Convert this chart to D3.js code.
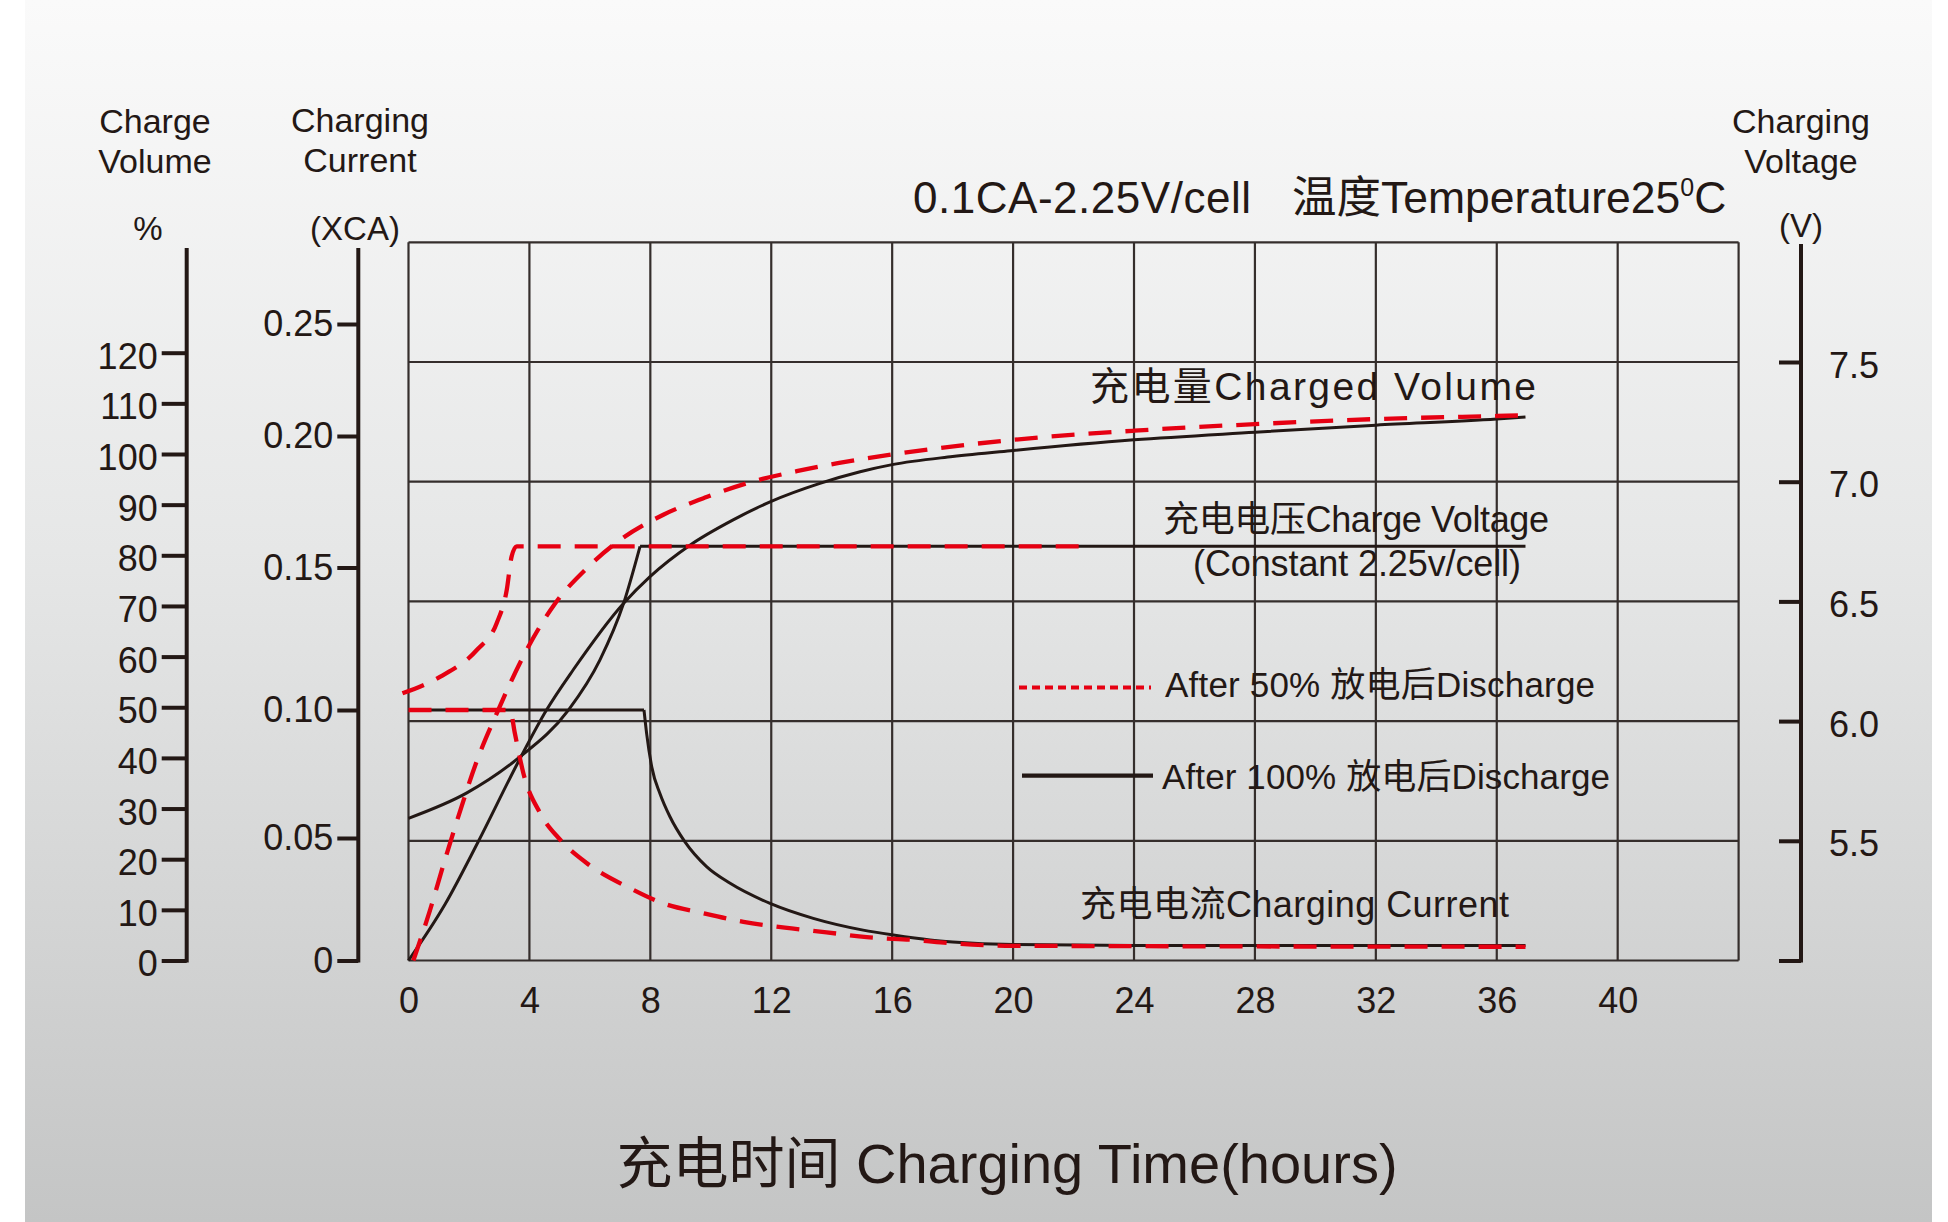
<!DOCTYPE html>
<html><head><meta charset="utf-8">
<script src="https://cdn.jsdelivr.net/npm/d3@7/dist/d3.min.js"></script>
<style>
body{margin:0;background:#fff;}
svg{display:block;}
text{font-family:"Liberation Sans",Arial,"Noto Sans CJK SC",sans-serif;fill:#231815;}
</style>
</head><body>
<svg id="chart" width="1948" height="1222"></svg>
<script>
// ---------------- DATA ----------------
const hourTicks = [0, 4, 8, 12, 16, 20, 24, 28, 32, 36, 40];
const volumeTicks = [0, 10, 20, 30, 40, 50, 60, 70, 80, 90, 100, 110, 120];
const currentTicks = [0, 0.05, 0.10, 0.15, 0.20, 0.25];
const currentTickLabels = ["0", "0.05", "0.10", "0.15", "0.20", "0.25"];
const voltageTicks = [5.0, 5.5, 6.0, 6.5, 7.0, 7.5];
const voltageTickLabels = ["", "5.5", "6.0", "6.5", "7.0", "7.5"];

// After 100% discharge (black solid)
const volume100Hours = [0, 1.2, 2.31, 3.63, 4.57, 5.45, 7.11, 7.99, 9.31, 10.74, 11.98, 13.61, 14.94, 16, 18, 20, 24, 28, 32, 36, 36.95];
const volume100Pct   = [0, 11, 23.5, 39.2, 49.5, 57.4, 70.5, 75.8, 82.0, 87.0, 90.6, 94.2, 96.5, 97.9, 99.5, 100.7, 102.8, 104.3, 105.7, 106.9, 107.3];
const voltage100Hours = [0, 1.93, 3.63, 5.29, 6.33, 7.11, 7.66, 36.95];
const voltage100V     = [5.594, 5.70, 5.845, 6.046, 6.255, 6.49, 6.73, 6.73];
const current100Hours = [0, 7.79, 7.88, 8.05, 8.32, 8.65, 9.14, 9.86, 10.64, 11.96, 13.39, 15.04, 16.04, 17.25, 18, 20, 24, 36.95];
const current100CA    = [0.1, 0.1, 0.0906, 0.0776, 0.0673, 0.0583, 0.0485, 0.0383, 0.0315, 0.0233, 0.0172, 0.0124, 0.0104, 0.0084, 0.0076, 0.0065, 0.0061, 0.0061];

// After 50% discharge (red dashed)
const volume50Hours = [0.16, 0.71, 1.17, 1.68, 2.23, 2.92, 3.96, 4.85, 5.89, 7.11, 8.43, 9.86, 11.35, 12.84, 14.2, 16, 20, 24, 28, 32, 36, 36.7];
const volume50Pct   = [0, 9.9, 19.2, 29.0, 38.9, 48.8, 61.9, 70.5, 77.4, 83.5, 88.0, 91.5, 94.5, 96.6, 98.2, 99.9, 102.8, 104.6, 105.9, 106.9, 107.5, 107.6];
const voltage50Hours = [-0.2, 1.04, 2.26, 2.92, 3.25, 3.41, 3.58, 22.6];
const voltage50V     = [6.116, 6.185, 6.297, 6.41, 6.548, 6.687, 6.73, 6.73];
const current50Hours = [0, 3.36, 3.52, 3.80, 4.35, 5.01, 5.89, 7.33, 8.43, 9.75, 11.08, 12.45, 13.83, 15.16, 16.7, 18, 20, 36.95];
const current50CA    = [0.1, 0.1, 0.0908, 0.0753, 0.0598, 0.0494, 0.0398, 0.0295, 0.0233, 0.0193, 0.0158, 0.0134, 0.0115, 0.0095, 0.0084, 0.0070, 0.0060, 0.0056];

const legendLabels = ["After 50% 放电后Discharge", "After 100% 放电后Discharge"];

// ---------------- SETUP ----------------
const INK = "#231815", RED = "#e60012", GRID = "#352e2c";
const svg = d3.select("#chart");

const defs = svg.append("defs");
const grad = defs.append("linearGradient").attr("id", "bg").attr("x1", 0).attr("y1", 0).attr("x2", 0).attr("y2", 1);
grad.append("stop").attr("offset", "0").attr("stop-color", "#fafafa");
grad.append("stop").attr("offset", "0.45").attr("stop-color", "#e6e7e7");
grad.append("stop").attr("offset", "1").attr("stop-color", "#c4c5c5");
svg.append("rect").attr("x", 0).attr("y", 0).attr("width", 1948).attr("height", 1222).attr("fill", "#ffffff");
svg.append("rect").attr("x", 25).attr("y", 0).attr("width", 1907).attr("height", 1222).attr("fill", "url(#bg)");

const x = d3.scaleLinear().domain([0, 44]).range([408.5, 1738.6]);
const yVol = d3.scaleLinear().domain([0, 120]).range([960.5, 352.7]);
const yCur = d3.scaleLinear().domain(currentTicks).range([960.5, 838, 710, 567.5, 436, 324]);
const yVolt = d3.scaleLinear().domain([5, 8]).range([960.5, 242.3]);

// ---------------- GRID ----------------
const grid = svg.append("g");
grid.selectAll("line.v").data(d3.range(0, 45, 4)).join("line")
  .attr("x1", d => x(d)).attr("x2", d => x(d))
  .attr("y1", yVolt(8)).attr("y2", yVolt(5))
  .attr("stroke", GRID).attr("stroke-width", 2.2);
grid.selectAll("line.h").data(d3.range(5, 8.01, 0.5)).join("line")
  .attr("x1", x(0)).attr("x2", x(44))
  .attr("y1", d => yVolt(d)).attr("y2", d => yVolt(d))
  .attr("stroke", GRID).attr("stroke-width", 2.2);

// ---------------- AXES ----------------
function styleAxis(g) {
  g.select(".domain").remove();
  g.selectAll(".tick line").attr("stroke", INK).attr("stroke-width", 4);
  g.selectAll(".tick text").attr("fill", INK).style("font-size", "36px")
   .style("font-family", '"Liberation Sans",Arial,sans-serif');
}
// Charge volume axis
const gVol = svg.append("g").attr("transform", "translate(186.7,0)")
  .call(d3.axisLeft(yVol).tickValues(volumeTicks).tickSize(25).tickPadding(4));
styleAxis(gVol);
gVol.selectAll(".tick text").attr("dy", "0.43em");
gVol.append("line").attr("x1", 0).attr("x2", 0).attr("y1", 248).attr("y2", yVol(0) + 2)
  .attr("stroke", INK).attr("stroke-width", 4);

// Charging current axis
const gCur = svg.append("g").attr("transform", "translate(358.3,0)")
  .call(d3.axisLeft(yCur).tickValues(currentTicks).tickFormat((d, i) => currentTickLabels[i]).tickSize(21).tickPadding(4));
styleAxis(gCur);
gCur.append("line").attr("x1", 0).attr("x2", 0).attr("y1", 248).attr("y2", yCur(0) + 2)
  .attr("stroke", INK).attr("stroke-width", 4);

// Charging voltage axis (right)
const gVolt = svg.append("g").attr("transform", "translate(1801,0)")
  .call(d3.axisRight(yVolt).tickValues(voltageTicks).tickFormat((d, i) => voltageTickLabels[i]).tickSize(-22).tickPadding(28));
styleAxis(gVolt);
gVolt.selectAll(".tick text").attr("dy", "0.42em");
gVolt.append("line").attr("x1", 0).attr("x2", 0).attr("y1", 244).attr("y2", yVolt(5) + 2)
  .attr("stroke", INK).attr("stroke-width", 4);

// Hours axis
const gX = svg.append("g").attr("transform", `translate(0,${yVolt(5)})`)
  .call(d3.axisBottom(x).tickValues(hourTicks).tickSize(0).tickPadding(26.5));
styleAxis(gX);

// ---------------- SERIES ----------------
const pts = (hs, vs) => hs.map((h, i) => [h, vs[i]]);
function path(data, yS, curve, color, width, dash) {
  const line = d3.line().x(d => x(d[0])).y(d => yS(d[1])).curve(curve);
  const p = svg.append("path").datum(data).attr("d", line)
    .attr("fill", "none").attr("stroke", color).attr("stroke-width", width)
    .attr("stroke-linejoin", "round");
  if (dash) p.attr("stroke-dasharray", dash);
  return p;
}
// black: 100% discharge
const v100 = pts(voltage100Hours, voltage100V);
path(v100.slice(0, 7), yVolt, d3.curveMonotoneX, INK, 3);
path(v100.slice(6), yVolt, d3.curveLinear, INK, 3);
const c100 = pts(current100Hours, current100CA);
path(c100.slice(0, 2), yCur, d3.curveLinear, INK, 3);
path(c100.slice(1), yCur, d3.curveMonotoneX, INK, 3);
path(pts(volume100Hours, volume100Pct), yVol, d3.curveMonotoneX, INK, 3);

// red: 50% discharge
const DASH = "23,14";
path(pts(voltage50Hours, voltage50V), yVolt, d3.curveMonotoneX, RED, 4.3, DASH);
path(pts(current50Hours, current50CA), yCur, d3.curveMonotoneX, RED, 4.3, DASH);
path(pts(volume50Hours, volume50Pct), yVol, d3.curveMonotoneX, RED, 4.3, DASH);

// ---------------- LEGEND ----------------
svg.append("line").attr("x1", 1019).attr("x2", 1151).attr("y1", 687.4).attr("y2", 687.4)
  .attr("stroke", RED).attr("stroke-width", 4).attr("stroke-dasharray", "8,5");
svg.append("line").attr("x1", 1022).attr("x2", 1153).attr("y1", 775.6).attr("y2", 775.6)
  .attr("stroke", INK).attr("stroke-width", 4.4);
svg.append("text").attr("x", 1165).attr("y", 697).style("font-size", "35px").attr("textLength", 430).text(legendLabels[0]);
svg.append("text").attr("x", 1162).attr("y", 789).style("font-size", "35px").attr("textLength", 448).text(legendLabels[1]);

// ---------------- ANNOTATIONS ----------------
function label(t, xx, yy, size, len, anchor) {
  const e = svg.append("text").attr("x", xx).attr("y", yy).style("font-size", size + "px")
    .attr("text-anchor", anchor || "start").text(t);
  if (len) e.attr("textLength", len);
  return e;
}
label("充电量Charged Volume", 1090, 400, 39, 446);
label("充电电压Charge Voltage", 1163, 532, 36, 386);
label("(Constant 2.25v/cell)", 1193, 576, 36, 328);
label("充电电流Charging Current", 1080, 917, 36, 429);

// axis titles
label("Charge", 155, 133, 34, null, "middle");
label("Volume", 155, 173, 34, null, "middle");
label("%", 148, 240, 33, null, "middle");
label("Charging", 360, 132, 34, null, "middle");
label("Current", 360, 172, 34, null, "middle");
label("(XCA)", 355, 240, 33, null, "middle");
label("Charging", 1801, 133, 34, null, "middle");
label("Voltage", 1801, 173, 34, null, "middle");
label("(V)", 1801, 237, 33, null, "middle");

// chart title
label("0.1CA-2.25V/cell", 913, 213, 44, 338);
const t2 = svg.append("text").attr("x", 1292).attr("y", 213).style("font-size", "44.5px");
t2.append("tspan").text("温度Temperature25");
t2.append("tspan").attr("dy", -17).style("font-size", "25px").text("0");
t2.append("tspan").attr("dy", 17).text("C");

// x title
label("充电时间 Charging Time(hours)", 1007, 1183, 56, null, "middle");
</script>
</body></html>
